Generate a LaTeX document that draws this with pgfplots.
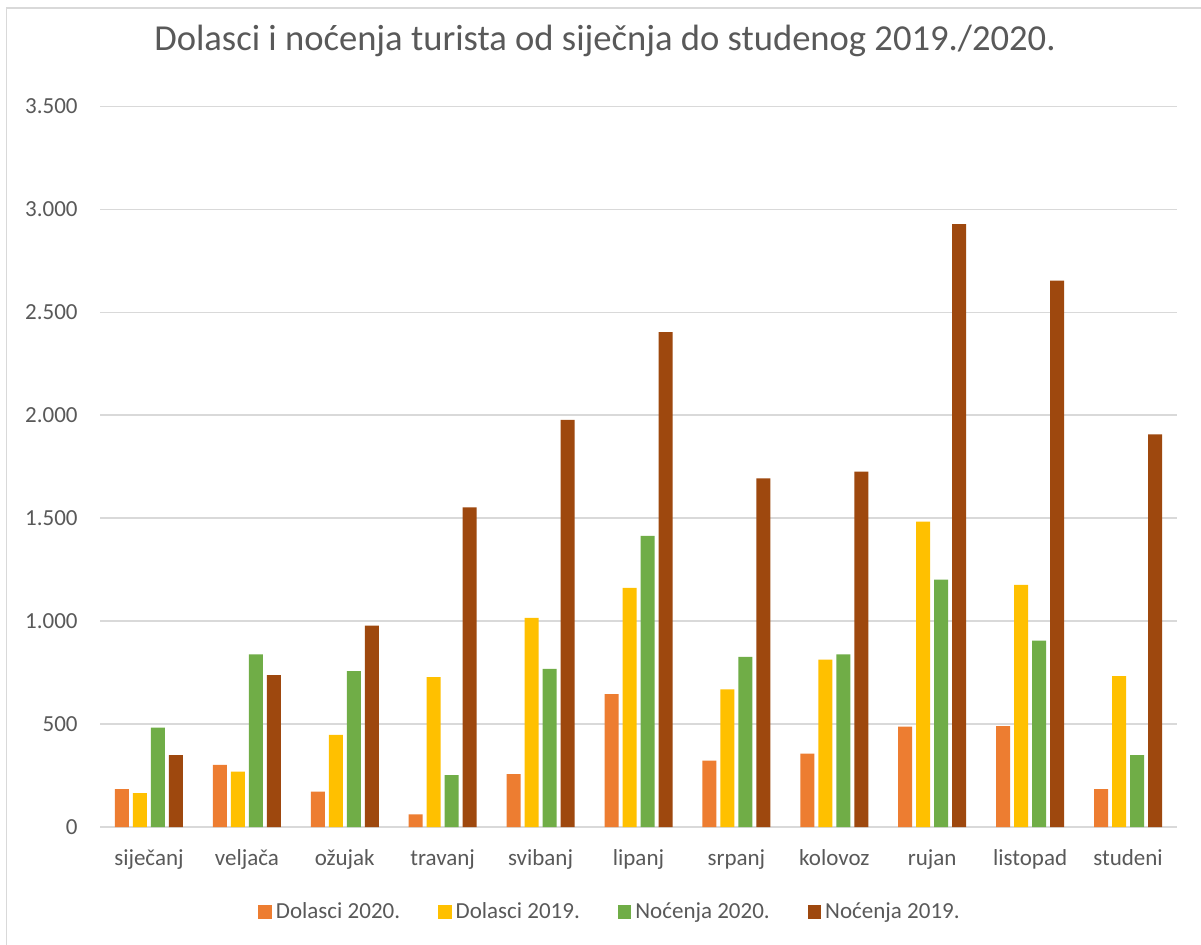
\documentclass[border=0pt]{standalone}
\usepackage{fontspec}
\setmainfont{Carlito}
\usepackage{pgfplots}
\pgfplotsset{compat=1.18}
\usepackage{pgfplotstable}
\definecolor{cOr}{HTML}{ED7D31}
\definecolor{cYe}{HTML}{FFC000}
\definecolor{cGr}{HTML}{70AD47}
\definecolor{cBr}{HTML}{9E480E}
\definecolor{cGrid}{HTML}{D9D9D9}
\definecolor{cTxt}{HTML}{595959}
\pgfplotstableread{
x d20 d19 n20 n19
0 184 165 483 349
1 302 269 839 738
2 172 448 757 978
3 61 728 252 1553
4 257 1016 768 1978
5 646 1162 1414 2404
6 323 669 827 1693
7 356 813 839 1726
8 488 1483 1202 2928
9 490 1176 905 2654
10 184 733 349 1907
}\data
\begin{document}
\begin{tikzpicture}
\useasboundingbox (0,0) rectangle (600.5pt,472pt);
\fill[white] (0,0) rectangle (600.5pt,472pt);
\draw[cGrid, line width=0.8pt] (3.25pt,-2pt) -- (3.25pt,468pt) -- (604pt,468pt);
\begin{axis}[
  at={(50pt,58.5pt)}, anchor=south west,
  scale only axis, width=538.5pt, height=360.25pt,
  ybar=2pt, bar width=7pt,
  xmin=-0.5, xmax=10.5, ymin=0, ymax=3500,
  ytick={0,500,...,3500},
  xtick=data,
  xticklabels={siječanj,veljača,ožujak,travanj,svibanj,lipanj,srpanj,kolovoz,rujan,listopad,studeni},
  axis line style={draw=none},
  major tick length=0pt,
  ymajorgrids, grid style={cGrid, line width=0.8pt},
  /pgf/number format/.cd, fixed, 1000 sep={.}, assume math mode=true,
  /pgfplots/.cd,
  tick label style={font=\fontsize{11.5}{13}\selectfont, text=cTxt},
  yticklabel style={anchor=east, inner sep=0pt, xshift=-11pt},
  xticklabel style={anchor=base, inner sep=0pt, yshift=-19pt},
  title={Dolasci i noćenja turista od siječnja do studenog 2019./2020.},
  title style={at={(axis description cs:0.4689,1.0604)}, anchor=base, font=\fontsize{18.3}{22}\selectfont, text=cTxt, inner sep=0pt},
  legend columns=4,
  legend style={at={(axis description cs:0.4745,-0.118)}, anchor=center, draw=none, fill=none,
    font=\fontsize{11.5}{13}\selectfont, text=cTxt,
    /tikz/every even column/.append style={column sep=17pt}},
  every axis plot/.append style={draw=none,
    legend image code/.code={\fill[##1] (0pt,-3.375pt) rectangle (6.75pt,3.375pt);}},
]
\addplot[fill=cOr] table[x=x,y=d20]{\data};
\addlegendentry{Dolasci 2020.}
\addplot[fill=cYe] table[x=x,y=d19]{\data};
\addlegendentry{Dolasci 2019.}
\addplot[fill=cGr] table[x=x,y=n20]{\data};
\addlegendentry{Noćenja 2020.}
\addplot[fill=cBr] table[x=x,y=n19]{\data};
\addlegendentry{Noćenja 2019.}
\end{axis}
\end{tikzpicture}
\end{document}
